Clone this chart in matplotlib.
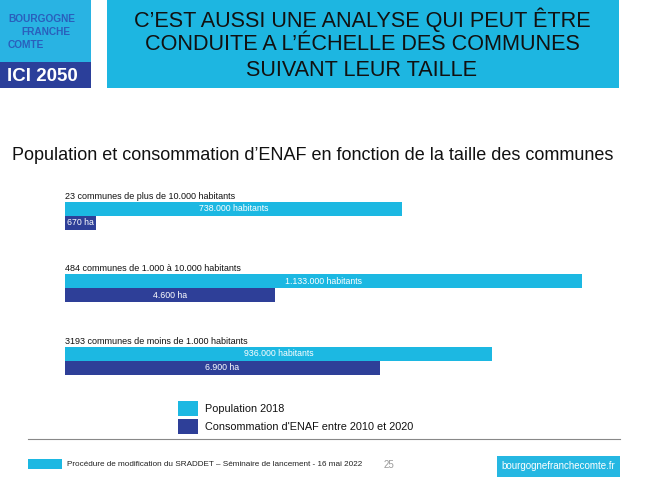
import matplotlib
matplotlib.use("Agg")
import matplotlib.pyplot as plt
from matplotlib.patches import Rectangle

# data
groups = ["23 communes de plus de 10.000 habitants",
          "484 communes de 1.000 à 10.000 habitants",
          "3193 communes de moins de 1.000 habitants"]
population = [738000, 1133000, 936000]
enaf_ha = [670, 4600, 6900]
pop_labels = ["738.000 habitants", "1.133.000 habitants", "936.000 habitants"]
enaf_labels = ["670 ha", "4.600 ha", "6.900 ha"]
legend_labels = ["Population 2018", "Consommation d'ENAF entre 2010 et 2020"]

LIGHT = "#1cb8e2"
DARK = "#2e3f98"
W, H = 650, 488

plt.rcParams['font.family'] = ['Liberation Sans', 'DejaVu Sans']
fig = plt.figure(figsize=(W / 100, H / 100), dpi=100)


def fx(x):
    return x / W


def fy(y):
    return 1 - y / H


def rect(x0, y0, x1, y1, color, **kw):
    fig.add_artist(Rectangle((fx(x0), fy(y1)), (x1 - x0) / W, (y1 - y0) / H,
                             transform=fig.transFigure, color=color, lw=0, **kw))


# header: logo + title box
rect(0, 0, 91, 62, "#29b3e3")
rect(0, 62, 91, 88, "#2b3f9a")
logo_blue = "#2a5fbc"
fig.text(fx(8), fy(19), "BOURGOGNE", color=logo_blue, fontsize=7.3,
         fontweight="bold", va="center", ha="left")
fig.text(fx(46), fy(32), "FRANCHE", color=logo_blue, fontsize=7.3,
         fontweight="bold", va="center", ha="center")
fig.text(fx(8), fy(45), "COMTE", color=logo_blue, fontsize=7.3,
         fontweight="bold", va="center", ha="left")
fig.text(fx(7), fy(76), "ICI 2050", color="white", fontsize=13.5,
         fontweight="bold", va="center", ha="left")

rect(107, 0, 619, 88, "#1db6e1")
title_lines = ["C\u2019EST AUSSI UNE ANALYSE QUI PEUT ÊTRE",
               "CONDUITE A L\u2019ÉCHELLE DES COMMUNES",
               "SUIVANT LEUR TAILLE"]
for k, line in enumerate(title_lines):
    fig.text(fx(362), fy(20 + 25 * k), line, ha="center", va="center",
             fontsize=15.6, color="#111111")

fig.text(fx(12), fy(156), "Population et consommation d\u2019ENAF en fonction de la taille des communes",
         ha="left", va="center", fontsize=13, color="#111111")

# bars: population and ENAF on their own x scales
x0_px, x1_px = 65, 582
top_px, bot_px = 185, 385
step = 72.5  # px between groups
ax = fig.add_axes([fx(x0_px), fy(bot_px), (x1_px - x0_px) / W, (bot_px - top_px) / H])
ax.set_xlim(0, max(population))
ax.set_ylim((bot_px - 216) / step, (top_px - 216) / step)
ax.axis("off")
ax2 = ax.twiny()
ax2.set_xlim(0, max(enaf_ha) * (x1_px - x0_px) / (380 - x0_px))
ax2.axis("off")

bh = 14 / step
for i in range(len(groups)):
    ax.barh(i - bh / 2, population[i], height=bh, color=LIGHT)
    ax2.barh(i + bh / 2, enaf_ha[i], height=bh, color=DARK)
    ax.text(0, i - 0.27, groups[i], fontsize=6.5, va="center", ha="left", color="#111111")
    ax.text(population[i] / 2, i - bh / 2, pop_labels[i], fontsize=6.3,
            va="center", ha="center", color="white")
    ax2.text(enaf_ha[i] / 2, i + bh / 2, enaf_labels[i], fontsize=6.3,
             va="center", ha="center", color="white")

# legend
rect(178, 401, 198, 416, LIGHT)
rect(178, 419, 198, 434, DARK)
fig.text(fx(205), fy(409), legend_labels[0], fontsize=7.8, va="center", color="#111111")
fig.text(fx(205), fy(427), legend_labels[1], fontsize=7.8, va="center", color="#111111")

# footer
fig.add_artist(plt.Line2D([fx(28), fx(620)], [fy(439), fy(439)],
                          transform=fig.transFigure, color="#888888", lw=0.8))
rect(28, 459, 62, 469, LIGHT)
fig.text(fx(67), fy(464), "Procédure de modification du SRADDET \u2013 Séminaire de lancement - 16 mai 2022",
         fontsize=5.85, va="center", color="#222222")
fig.text(fx(384), fy(465), "25", fontsize=7, va="center", color="#999999")
rect(497, 456, 620, 477, "#25b7e2")
fig.text(fx(558), fy(466), "bourgognefranchecomte.fr", fontsize=7, ha="center",
         va="center", color="white")

fig.savefig("out.png", dpi=100, facecolor="white")
